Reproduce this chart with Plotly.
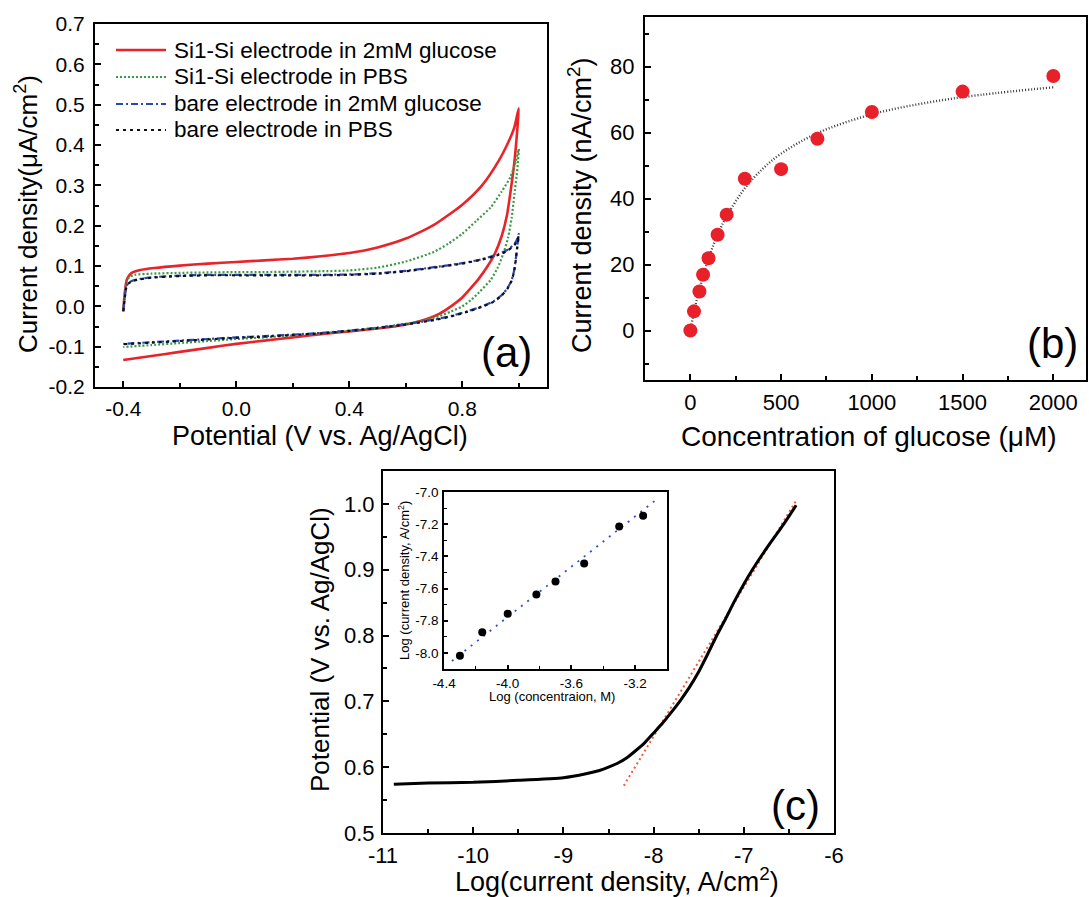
import plotly.graph_objects as go

W, H = 1089, 897
FONT = "Arial, 'Liberation Sans', Helvetica, sans-serif"

# ---------------- Panel (a): cyclic voltammograms ----------------
si_glu_x = [-0.400, -0.395, -0.388, -0.380, -0.370, -0.340, -0.290, -0.200, -0.100, 0.000, 0.100, 0.200,
            0.300, 0.400, 0.500, 0.600, 0.700, 0.800, 0.870, 0.930, 0.965, 0.985, 1.000,
            0.995, 0.985, 0.972, 0.958, 0.940, 0.915, 0.890, 0.860, 0.830, 0.800, 0.760, 0.720, 0.680,
            0.620, 0.560, 0.500, 0.400, 0.300, 0.200, 0.100, 0.000, -0.100, -0.200, -0.300, -0.400]
si_glu_y = [-0.013, 0.030, 0.065, 0.076, 0.083, 0.090, 0.095, 0.101, 0.106, 0.110, 0.114, 0.118,
            0.124, 0.132, 0.146, 0.168, 0.202, 0.252, 0.300, 0.362, 0.410, 0.445, 0.491,
            0.440, 0.360, 0.290, 0.225, 0.175, 0.130, 0.100, 0.070, 0.045, 0.022, 0.000, -0.018, -0.030,
            -0.042, -0.050, -0.055, -0.062, -0.069, -0.077, -0.085, -0.093, -0.103, -0.113, -0.123, -0.133]

si_pbs_x = [-0.400, -0.395, -0.388, -0.378, -0.360, -0.300, -0.200, -0.100, 0.000, 0.100, 0.200, 0.300,
            0.400, 0.500, 0.600, 0.700, 0.750, 0.800, 0.850, 0.900, 0.940, 0.970, 0.990, 1.000,
            0.995, 0.985, 0.975, 0.962, 0.945, 0.925, 0.900, 0.860, 0.830, 0.800, 0.760, 0.720, 0.680,
            0.630, 0.560, 0.500, 0.400, 0.300, 0.200, 0.100, 0.000, -0.100, -0.200, -0.300, -0.400]
si_pbs_y = [-0.010, 0.030, 0.062, 0.073, 0.078, 0.081, 0.083, 0.084, 0.085, 0.085, 0.086, 0.087,
            0.089, 0.096, 0.111, 0.135, 0.155, 0.180, 0.212, 0.245, 0.285, 0.320, 0.360, 0.390,
            0.340, 0.280, 0.220, 0.170, 0.130, 0.095, 0.065, 0.035, 0.015, 0.000, -0.013, -0.024, -0.032,
            -0.040, -0.047, -0.053, -0.061, -0.067, -0.072, -0.077, -0.081, -0.086, -0.091, -0.096, -0.101]

bare_glu_x = [-0.400, -0.395, -0.390, -0.383, -0.370, -0.340, -0.300, -0.200, -0.100, 0.000, 0.100, 0.200,
              0.300, 0.400, 0.500, 0.600, 0.700, 0.800, 0.870, 0.930, 0.960, 0.985, 0.995, 1.000,
              0.995, 0.990, 0.984, 0.975, 0.960, 0.940, 0.910, 0.870, 0.820, 0.760, 0.700, 0.640,
              0.580, 0.500, 0.400, 0.300, 0.200, 0.100, 0.000, -0.100, -0.200, -0.300, -0.400]
bare_glu_y = [-0.010, 0.020, 0.045, 0.057, 0.063, 0.068, 0.072, 0.076, 0.078, 0.078, 0.078, 0.078,
              0.078, 0.079, 0.082, 0.088, 0.097, 0.107, 0.117, 0.130, 0.140, 0.155, 0.168, 0.180,
              0.150, 0.120, 0.090, 0.065, 0.045, 0.028, 0.012, 0.000, -0.012, -0.024, -0.033, -0.040,
              -0.046, -0.053, -0.060, -0.066, -0.070, -0.074, -0.077, -0.081, -0.085, -0.089, -0.093]

bare_pbs_x = [-0.400, -0.395, -0.390, -0.383, -0.370, -0.340, -0.300, -0.200, -0.100, 0.000, 0.100, 0.200,
              0.300, 0.400, 0.500, 0.600, 0.700, 0.800, 0.870, 0.930, 0.960, 0.985, 0.995, 1.000,
              0.995, 0.990, 0.984, 0.975, 0.960, 0.940, 0.910, 0.870, 0.820, 0.760, 0.700, 0.640,
              0.580, 0.500, 0.400, 0.300, 0.200, 0.100, 0.000, -0.100, -0.200, -0.300, -0.400]
bare_pbs_y = [-0.012, 0.018, 0.044, 0.056, 0.062, 0.067, 0.071, 0.075, 0.077, 0.077, 0.077, 0.077,
              0.077, 0.078, 0.081, 0.087, 0.096, 0.106, 0.116, 0.128, 0.138, 0.152, 0.164, 0.175,
              0.148, 0.118, 0.088, 0.064, 0.044, 0.027, 0.011, -0.001, -0.013, -0.025, -0.034, -0.041,
              -0.047, -0.054, -0.061, -0.067, -0.071, -0.075, -0.078, -0.082, -0.086, -0.090, -0.094]

a_names = ["Si1-Si electrode in 2mM glucose", "Si1-Si electrode in PBS",
           "bare electrode in 2mM glucose", "bare electrode in PBS"]
a_xticks = [-0.4, 0.0, 0.4, 0.8]
a_xticktext = ["-0.4", "0.0", "0.4", "0.8"]
a_yticks = [-0.2, -0.1, 0.0, 0.1, 0.2, 0.3, 0.4, 0.5, 0.6, 0.7]
a_yticktext = ["-0.2", "-0.1", "0.0", "0.1", "0.2", "0.3", "0.4", "0.5", "0.6", "0.7"]

# ---------------- Panel (b): calibration ----------------
conc_uM = [0, 20, 50, 70, 100, 150, 200, 300, 500, 700, 1000, 1500, 2000]
current_nA = [0.0, 5.8, 11.8, 16.9, 21.9, 29.0, 35.1, 46.0, 48.9, 58.1, 66.2, 72.4, 77.1]
fit_b_x = [0, 25, 50, 100, 150, 200, 300, 400, 500, 700, 1000, 1300, 1600, 2000]
fit_b_y = [0.0, 6.8, 12.5, 21.8, 29.0, 34.6, 43.1, 49.1, 53.6, 59.8, 65.5, 69.0, 71.4, 73.7]
b_xticks = [0, 500, 1000, 1500, 2000]
b_xticktext = ["0", "500", "1000", "1500", "2000"]
b_yticks = [0, 20, 40, 60, 80]
b_yticktext = ["0", "20", "40", "60", "80"]

# ---------------- Panel (c): Tafel plot ----------------
tafel_x = [-10.88, -10.5, -10.0, -9.5, -9.0, -8.75, -8.6, -8.5, -8.4, -8.3, -8.2, -8.1, -8.0, -7.9,
           -7.8, -7.7, -7.6, -7.5, -7.4, -7.3, -7.2, -7.1, -7.0, -6.9, -6.8, -6.7, -6.6, -6.5, -6.42]
tafel_y = [0.574, 0.576, 0.577, 0.580, 0.584, 0.590, 0.595, 0.600, 0.606, 0.614, 0.625, 0.637, 0.652, 0.667,
           0.684, 0.702, 0.722, 0.745, 0.772, 0.800, 0.826, 0.853, 0.878, 0.901, 0.922, 0.942, 0.961, 0.981, 0.998]
tafel_fit_x = [-8.33, -6.42]
tafel_fit_y = [0.572, 1.005]
c_xticks = [-11, -10, -9, -8, -7, -6]
c_xticktext = ["-11", "-10", "-9", "-8", "-7", "-6"]
c_yticks = [0.5, 0.6, 0.7, 0.8, 0.9, 1.0]
c_yticktext = ["0.5", "0.6", "0.7", "0.8", "0.9", "1.0"]

# ---------------- Inset ----------------
log_conc = [-4.30, -4.16, -4.00, -3.82, -3.70, -3.52, -3.30, -3.15]
log_cur = [-8.017, -7.871, -7.757, -7.637, -7.556, -7.444, -7.214, -7.147]
inset_fit_x = [-4.35, -3.07]
inset_fit_y = [-8.05, -7.05]
i_xticks = [-4.4, -4.0, -3.6, -3.2]
i_xticktext = ["-4.4", "-4.0", "-3.6", "-3.2"]
i_yticks = [-8.0, -7.8, -7.6, -7.4, -7.2, -7.0]
i_yticktext = ["-8.0", "-7.8", "-7.6", "-7.4", "-7.2", "-7.0"]


def dx(l, r):
    return [l / W, r / W]


def dy(t, b):
    return [1 - b / H, 1 - t / H]


def axis(domain, rng, tv, tt, minor_d, minor_0, anchor, fs, lw=2.0, tl=6, mtl=4, stand=4):
    return dict(domain=domain, range=rng, tickmode="array", tickvals=tv, ticktext=tt,
                ticks="inside", ticklen=tl, tickwidth=lw, tickcolor="black",
                showline=True, linewidth=lw, linecolor="black", mirror=True,
                showgrid=False, zeroline=False, anchor=anchor, ticklabelstandoff=stand,
                automargin=False,
                tickfont=dict(family=FONT, size=fs, color="black"),
                minor=dict(ticks="inside", ticklen=mtl, tickwidth=lw * 0.8, tickcolor="black",
                           tick0=minor_0, dtick=minor_d, showgrid=False))


fig = go.Figure()

# panel (a) styles (shared by the traces and the hand-drawn legend keys)
a_colors = ["#e8242a", "#3c9a45", "#2846b4", "#111111"]
a_widths = [2.6, 2.2, 2.2, 2.2]
a_dashes = ["solid", "2px,2px", "7px,3px,2px,3px", "3px,4px"]
a_data = [(si_glu_x, si_glu_y), (si_pbs_x, si_pbs_y), (bare_glu_x, bare_glu_y), (bare_pbs_x, bare_pbs_y)]

for (xs, ys), nm, c, w, d in zip(a_data, a_names, a_colors, a_widths, a_dashes):
    fig.add_trace(go.Scatter(x=xs, y=ys, mode="lines", name=nm, showlegend=False,
                             line=dict(color=c, width=w, dash=d, shape="spline", smoothing=0.6),
                             xaxis="x", yaxis="y"))

# panel (b)
fig.add_trace(go.Scatter(x=fit_b_x, y=fit_b_y, mode="lines", showlegend=False,
                         line=dict(color="#3a3a3a", width=2.4, dash="1px,2px", shape="spline"),
                         xaxis="x2", yaxis="y2"))
fig.add_trace(go.Scatter(x=conc_uM, y=current_nA, mode="markers", showlegend=False,
                         marker=dict(color="#e8202a", size=14, line=dict(width=0)),
                         xaxis="x2", yaxis="y2"))

# panel (c)
fig.add_trace(go.Scatter(x=tafel_fit_x, y=tafel_fit_y, mode="lines", showlegend=False,
                         line=dict(color="#f45a3c", width=2.0, dash="2px,3px"), xaxis="x3", yaxis="y3"))
fig.add_trace(go.Scatter(x=tafel_x, y=tafel_y, mode="lines", showlegend=False,
                         line=dict(color="black", width=3, shape="spline", smoothing=0.5),
                         xaxis="x3", yaxis="y3"))

# inset
fig.add_trace(go.Scatter(x=inset_fit_x, y=inset_fit_y, mode="lines", showlegend=False,
                         line=dict(color="#3050c8", width=1.8, dash="2px,6px"), xaxis="x4", yaxis="y4"))
fig.add_trace(go.Scatter(x=log_conc, y=log_cur, mode="markers", showlegend=False,
                         marker=dict(color="black", size=8), xaxis="x4", yaxis="y4"))

TF = 21
fig.update_layout(
    width=W, height=H, margin=dict(l=0, r=0, t=0, b=0, autoexpand=False),
    paper_bgcolor="white", plot_bgcolor="white",
    font=dict(family=FONT, color="black"),
    xaxis=axis(dx(95, 547), [-0.5, 1.1], a_xticks, a_xticktext, 0.2, -0.4, "y", TF, stand=2),
    yaxis=axis(dy(24, 387), [-0.2, 0.7], a_yticks, a_yticktext, 0.05, -0.2, "x", TF),
    xaxis2=axis(dx(645, 1086), [-250, 2180], b_xticks, b_xticktext, 250, 0, "y2", TF + 1, stand=2),
    yaxis2=axis(dy(17, 380), [-15, 95], b_yticks, b_yticktext, 10, 0, "x2", TF + 1),
    xaxis3=axis(dx(383, 834), [-11, -6], c_xticks, c_xticktext, 0.5, -11, "y3", TF + 1, stand=2),
    yaxis3=axis(dy(471, 833), [0.5, 1.05], c_yticks, c_yticktext, 0.05, 0.5, "x3", TF + 1, stand=2),
    xaxis4=axis(dx(444, 667), [-4.4, -3.0], i_xticks, i_xticktext, 0.2, -4.4, "y4", 13.5,
                lw=1.5, tl=4, mtl=3, stand=1),
    yaxis4=axis(dy(492, 669), [-8.1, -7.0], i_yticks, i_yticktext, 0.1, -8.0, "x4", 13.5,
                lw=1.5, tl=4, mtl=3, stand=1),
    showlegend=False,
)


def label(text, x, y, size, angle=0, xanchor="center"):
    fig.add_annotation(text=text, x=x / W, y=1 - y / H, xref="paper", yref="paper",
                       showarrow=False, textangle=angle, xanchor=xanchor, yanchor="middle",
                       font=dict(family=FONT, size=size, color="black"))


# hand-drawn legend for panel (a)
legend_rows = [50, 77, 104, 130]
for nm, c, w, d, ry in zip(a_names, a_colors, a_widths, a_dashes, legend_rows):
    fig.add_shape(type="line", xref="paper", yref="paper",
                  x0=116 / W, x1=166 / W, y0=1 - ry / H, y1=1 - ry / H,
                  line=dict(color=c, width=w, dash=d))
    label(nm, 172, ry, 22.5, xanchor="left")

label("Current density(μA/cm<sup>2</sup>)", 26, 214, 26, -90)
label("Potential (V vs. Ag/AgCl)", 320, 436, 27)
label("Current density (nA/cm<sup>2</sup>)", 580, 205, 27, -90)
label("Concentration of glucose (μM)", 869, 436, 28)
label("Potential (V vs. Ag/AgCl)", 320, 650, 26, -90)
label("Log(current density, A/cm<sup>2</sup>)", 617, 880, 27)
label("Log (concentraion, M)", 552, 696, 13)
label("Log (current density, A/cm<sup>2</sup>)", 404, 581, 13, -90)
label("(a)", 506, 352, 42)
label("(b)", 1052, 343, 42)
label("(c)", 795, 805, 42)

fig.write_html("out.html")
